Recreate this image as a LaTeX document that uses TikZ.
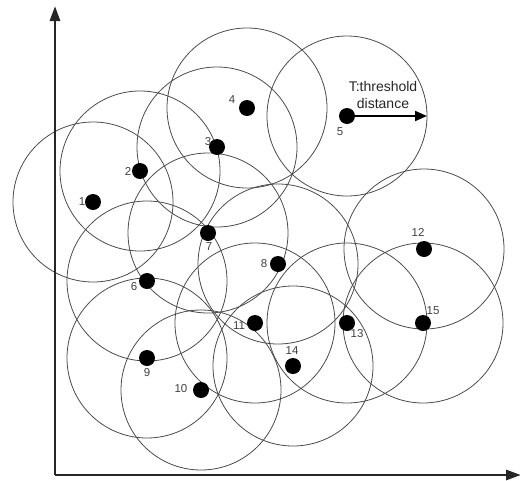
\documentclass[tikz,border=0pt]{standalone}
\usepackage{fontspec}
\setmainfont{Liberation Sans}
\usetikzlibrary{arrows.meta}
\begin{document}
\begin{tikzpicture}[x=1pt,y=-1pt,
  rangecircle/.style={draw=black!70,line width=0.8pt},
  sensor/.style={circle,fill=black,inner sep=0pt,minimum size=16pt},
  num/.style={font=\fontsize{11.5}{11.5}\selectfont,text=black!75,inner sep=0pt},
  axis/.style={line width=2.8pt,draw=black!85,-{Triangle[length=15pt,width=10pt]}}]
\useasboundingbox (0,0) rectangle (520,480);
% sensor positions
\foreach \n/\x/\y in {1/93/202,2/140/171,3/217/147,4/247/108,5/347/116,6/147/281,7/208/233,8/278/264,9/147/358,10/201/390,11/255/323,12/424/249,13/347/323,14/293/366,15/423/323}{
  \coordinate (c\n) at (\x,\y);
  \draw[rangecircle] (c\n) circle[radius=80];
}
\foreach \n in {1,...,15}{\node[sensor] (s\n) at (c\n) {};}
% labels
\node[num] (l1) at (82,202) {1};
\node[num] (l2) at (128,171) {2};
\node[num] (l3) at (208,142) {3};
\node[num] (l4) at (232,100) {4};
\node[num] (l5) at (340,132) {5};
\node[num] (l6) at (134,287) {6};
\node[num] (l7) at (209,247) {7};
\node[num] (l8) at (264,264) {8};
\node[num] (l9) at (147,373) {9};
\node[num] (l10) at (181,389) {10};
\node[num] (l11) at (239,326) {11};
\node[num] (l12) at (418,232) {12};
\node[num] (l13) at (357,334) {13};
\node[num] (l14) at (292,351) {14};
\node[num] (l15) at (433,311) {15};
% axes
\coordinate (o) at (55,475);
\coordinate (ytip) at (55,6);
\coordinate (xtip) at (521,475);
\draw[axis] (o) -- (ytip);
\draw[axis] (o) -- (xtip);
% threshold arrow
\coordinate (t5) at (427,116);
\draw[line width=2pt,-{Triangle[length=12pt,width=10pt]}] (s5.center) -- (t5);
\node[font=\fontsize{14}{17}\selectfont,align=center,text=black!85,inner sep=0pt] (tl) at (383,95) {T:threshold\\distance};
\end{tikzpicture}
\end{document}
